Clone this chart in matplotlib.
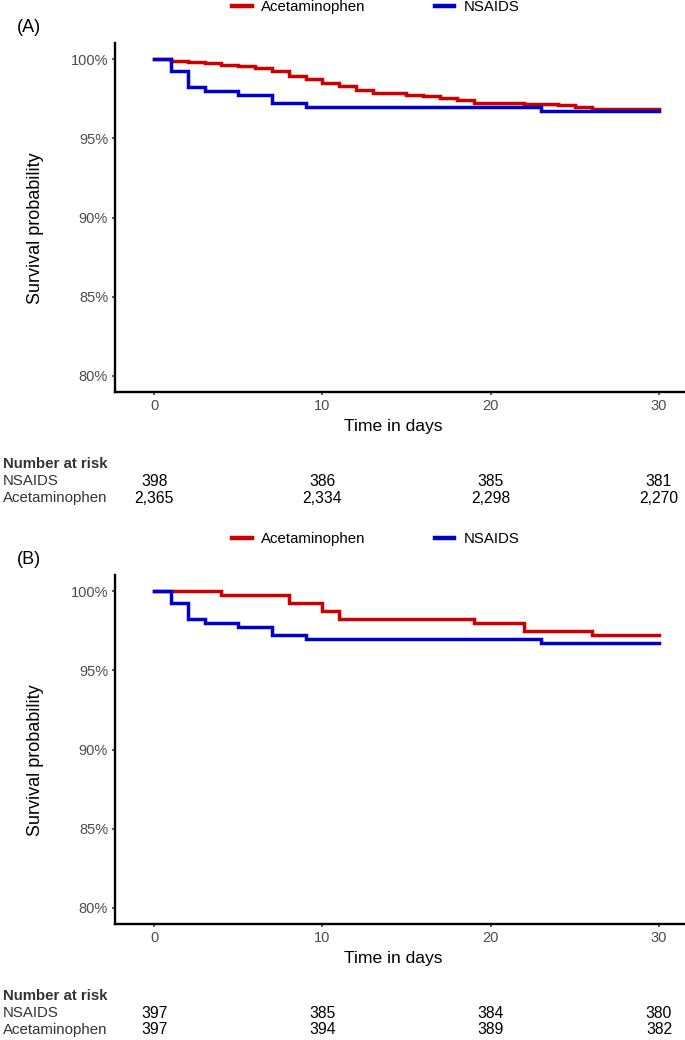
import matplotlib
matplotlib.use("Agg")
import matplotlib.pyplot as plt
from matplotlib.lines import Line2D
import matplotlib.transforms as mtransforms

plt.rcParams['font.family'] = ['Liberation Sans', 'DejaVu Sans']

# ---------------- data ----------------
groups = ["Acetaminophen", "NSAIDS"]
colors = {"Acetaminophen": "#CC0000", "NSAIDS": "#0000CC"}

# Panel A
time_acet_A = [0, 1, 2, 3, 4, 5, 6, 7, 8, 9, 10, 11, 12, 13, 15, 16, 17, 18, 19, 22, 24, 25, 26, 30]
surv_acet_A = [100, 99.90, 99.79, 99.74, 99.66, 99.59, 99.44, 99.24, 98.91, 98.74, 98.48, 98.33,
               98.04, 97.87, 97.76, 97.65, 97.52, 97.39, 97.26, 97.15, 97.08, 96.97, 96.88, 96.88]
time_nsaid_A = [0, 1, 2, 3, 5, 7, 9, 23, 30]
surv_nsaid_A = [100, 99.25, 98.24, 97.99, 97.74, 97.24, 96.98, 96.73, 96.73]

# Panel B
time_acet_B = [0, 4, 8, 10, 11, 19, 22, 26, 30]
surv_acet_B = [100, 99.75, 99.24, 98.74, 98.24, 97.98, 97.48, 97.23, 97.23]
time_nsaid_B = [0, 1, 2, 3, 5, 7, 9, 23, 30]
surv_nsaid_B = [100, 99.25, 98.24, 97.99, 97.74, 97.24, 96.98, 96.73, 96.73]

risk_times = [0, 10, 20, 30]
risk_nsaid_A = ["398", "386", "385", "381"]
risk_acet_A = ["2,365", "2,334", "2,298", "2,270"]
risk_nsaid_B = ["397", "385", "384", "380"]
risk_acet_B = ["397", "394", "389", "382"]

x_ticks = [0, 10, 20, 30]
y_ticks = [80, 85, 90, 95, 100]
y_ticklabels = ["80%", "85%", "90%", "95%", "100%"]

# ---------------- figure ----------------
W, H = 685, 1040
fig = plt.figure(figsize=(W / 100, H / 100), dpi=100)

def fx(px):
    return px / W

def fy(py):
    return 1 - py / H

panels = [
    dict(label="(A)", top=43.3, bottom=391.7, off=0,
         acet=(time_acet_A, surv_acet_A), nsaid=(time_nsaid_A, surv_nsaid_A),
         risk_n=risk_nsaid_A, risk_a=risk_acet_A),
    dict(label="(B)", top=575.3, bottom=923.7, off=532,
         acet=(time_acet_B, surv_acet_B), nsaid=(time_nsaid_B, surv_nsaid_B),
         risk_n=risk_nsaid_B, risk_a=risk_acet_B),
]

tick_color = "#4D4D4D"
for p in panels:
    left, right = 115, 685
    ax = fig.add_axes([fx(left), fy(p["bottom"]), fx(right) - fx(left),
                       fy(p["top"]) - fy(p["bottom"])])
    ax.step(p["acet"][0], p["acet"][1], where="post", color=colors["Acetaminophen"], lw=2.5,
            solid_joinstyle="miter")
    ax.step(p["nsaid"][0], p["nsaid"][1], where="post", color=colors["NSAIDS"], lw=2.5,
            solid_joinstyle="miter")
    ax.set_xlim(-2.32, 31.55)
    ax.set_ylim(79.0, 101.0)
    ax.set_xticks(x_ticks)
    ax.set_yticks(y_ticks)
    ax.set_yticklabels(y_ticklabels)
    for s in ["top", "right"]:
        ax.spines[s].set_visible(False)
    for s in ["left", "bottom"]:
        ax.spines[s].set_linewidth(1.7)
        ax.spines[s].set_color("black")
    ax.tick_params(axis="both", length=2.5, width=1.1, color="#333333",
                   labelsize=10.5, labelcolor=tick_color, pad=2.5)
    ax.set_facecolor("white")

    off = p["off"]
    # axis titles
    fig.text(fx(393), fy(426 + off), "Time in days", ha="center", va="center",
             fontsize=12.6, color="black")
    fig.text(fx(36), fy(228 + off), "Survival probability", ha="center", va="center",
             rotation=90, fontsize=13, color="black")
    # panel label
    fig.text(fx(17), fy(28 + off), p["label"], ha="left", va="center", fontsize=13)

    # legend
    handles = [Line2D([], [], color=colors[g], lw=3.2) for g in groups]
    fig.legend(handles, groups, loc="center", bbox_to_anchor=(fx(376), fy(7 + off)),
               ncol=2, frameon=False, fontsize=10.8, handlelength=1.3,
               handletextpad=0.65, columnspacing=4.6, borderaxespad=0, borderpad=0)

    # number at risk table
    trans = mtransforms.blended_transform_factory(ax.transData, fig.transFigure)
    fig.text(fx(3), fy(464 + off), "Number at risk", ha="left", va="center",
             fontsize=10.8, fontweight="bold", color="#333333")
    fig.text(fx(3), fy(481 + off), "NSAIDS", ha="left", va="center",
             fontsize=10.8, color="#333333")
    fig.text(fx(3), fy(498 + off), "Acetaminophen", ha="left", va="center",
             fontsize=10.8, color="#333333")
    for t, n in zip(risk_times, p["risk_n"]):
        ax.text(t, fy(481 + off), n, transform=trans, ha="center", va="center",
                fontsize=11.3, color="black", clip_on=False)
    for t, n in zip(risk_times, p["risk_a"]):
        ax.text(t, fy(498 + off), n, transform=trans, ha="center", va="center",
                fontsize=11.3, color="black", clip_on=False)

fig.savefig("out.png", dpi=100, facecolor="white")
